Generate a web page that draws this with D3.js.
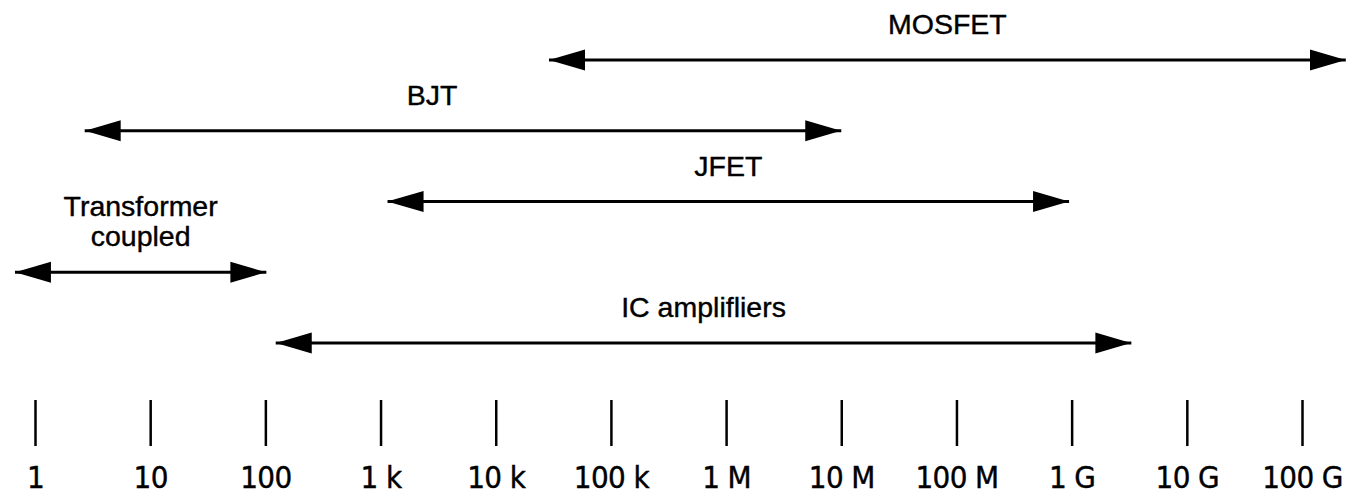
<!DOCTYPE html>
<html>
<head>
<meta charset="utf-8">
<script src="https://cdn.jsdelivr.net/npm/d3@7"></script>
<style>
body { margin: 0; background: #fff; }
svg { display: block; }
</style>
</head>
<body>
<svg width="1354" height="494"></svg>
<script>
// decade ticks along the bottom
var tickValues = [1, 1e1, 1e2, 1e3, 1e4, 1e5, 1e6, 1e7, 1e8, 1e9, 1e10, 1e11];
var tickLabels = ["1", "10", "100", "1 k", "10 k", "100 k", "1 M", "10 M", "100 M", "1 G", "10 G", "100 G"];

// ranges of each device
var names = ["MOSFET", "BJT", "JFET", "Transformer\ncoupled", "IC amplifliers"];
var lows = [2.9e4, 2.7, 1.15e3, 0.67, 1.23e2];
var highs = [2.4e11, 1.0e7, 0.95e9, 1.02e2, 3.3e9];
var labelAt = [null, 2.8e3, null, null, null]; // null = middle of the arrow

var svg = d3.select("svg"),
    width = +svg.attr("width"),
    height = +svg.attr("height");

var x = d3.scaleLog()
    .domain([1, 1e11])
    .range([35, 1302]);

var rowY = d3.scalePoint()
    .domain(names)
    .range([60, 343]);

// arrow head
svg.append("defs").append("marker")
    .attr("id", "head")
    .attr("markerUnits", "userSpaceOnUse")
    .attr("viewBox", "0 -11 36 22")
    .attr("markerWidth", 36)
    .attr("markerHeight", 22)
    .attr("refX", 36)
    .attr("refY", 0)
    .attr("orient", "auto-start-reverse")
    .append("path")
    .attr("d", "M0,-10.5L36,0L0,10.5Z")
    .attr("fill", "#000");

var rows = names.map(function(n, i) {
    return {name: n, lo: lows[i], hi: highs[i], at: labelAt[i]};
});

var g = svg.append("g").attr("class", "ranges");

g.selectAll("line")
    .data(rows)
    .enter().append("line")
    .attr("x1", function(d) { return x(d.lo); })
    .attr("x2", function(d) { return x(d.hi); })
    .attr("y1", function(d) { return rowY(d.name); })
    .attr("y2", function(d) { return rowY(d.name); })
    .attr("stroke", "#000")
    .attr("stroke-width", 3)
    .attr("marker-start", "url(#head)")
    .attr("marker-end", "url(#head)");

var label = g.selectAll("text")
    .data(rows)
    .enter().append("text")
    .attr("text-anchor", "middle")
    .attr("x", function(d) {
        if (d.at) return x(d.at);
        return (x(d.lo) + x(d.hi)) / 2;
    })
    .style("font-family", "'Liberation Sans', Arial, sans-serif")
    .style("font-size", "28.5px")
    .style("fill", "#000")
    .style("stroke", "#000")
    .style("stroke-width", 0.4);

label.each(function(d) {
    var lines = d.name.split("\n");
    var t = d3.select(this);
    var base = rowY(d.name) - 26 - (lines.length - 1) * 30;
    lines.forEach(function(s, j) {
        t.append("tspan")
            .attr("x", t.attr("x"))
            .attr("y", base + j * 30)
            .text(s);
    });
});

// bottom axis: plain vertical ticks, no domain line
var axis = d3.axisBottom(x)
    .tickValues(tickValues)
    .tickFormat(function(d, i) { return tickLabels[i]; })
    .tickSize(46);

var ax = svg.append("g")
    .attr("transform", "translate(0,400)")
    .call(axis);

ax.select(".domain").remove();
ax.selectAll(".tick line")
    .attr("stroke", "#000")
    .attr("stroke-width", 2.5);
ax.selectAll(".tick text")
    .attr("fill", "#000")
    .attr("y", 88)
    .attr("dy", 0)
    .style("font-family", "'DejaVu Sans Condensed', 'DejaVu Sans', sans-serif")
    .style("font-stretch", "condensed")
    .style("font-size", "31px")
    .style("letter-spacing", "-0.6px")
    .style("stroke", "#000")
    .style("stroke-width", 0.4);
</script>
</body>
</html>
